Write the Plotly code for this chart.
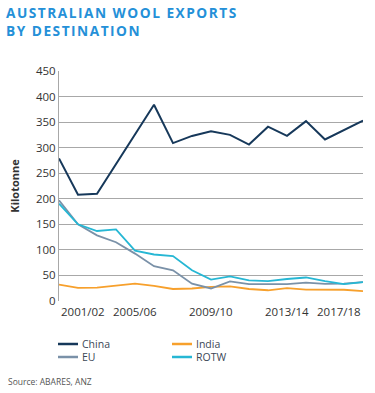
import plotly.graph_objects as go

years = ["2001/02", "2002/03", "2003/04", "2004/05", "2005/06", "2006/07", "2007/08",
         "2008/09", "2009/10", "2010/11", "2011/12", "2012/13", "2013/14", "2014/15",
         "2015/16", "2016/17", "2017/18"]
china = [279, 208, 210, 268, 327, 384, 309, 323, 332, 325, 306, 341, 323, 352, 316, 335, 353]
india = [32, 25.5, 26, 30, 34, 29.5, 23.5, 24.5, 27.5, 28.7, 23.5, 21, 25, 22.3, 22, 22, 19.5]
eu = [197, 150, 128.5, 115, 92.7, 68, 60, 34, 24.5, 38.5, 33, 33, 33, 36, 33.7, 34, 37]
rotw = [190.5, 150, 137, 140, 98.6, 91, 88, 60, 42, 48, 40.5, 39, 43, 46, 39, 33, 37]
tick_labels = ["2001/02", "2005/06", "2009/10", "2013/14", "2017/18"]
tick_idx = [0, 4, 8, 12, 16]
title_lines = ["AUSTRALIAN WOOL EXPORTS", "BY DESTINATION"]
source_text = "Source: ABARES, ANZ"

series = [
    ("China", china, "#16385a", 2.0),
    ("India", india, "#f7a02c", 1.8),
    ("EU", eu, "#7a91a8", 1.8),
    ("ROTW", rotw, "#26b7d4", 1.8),
]

FONT = "Open Sans"
W, H = 375, 393
L, R, T, B = 59, 12, 71, 92
pw, ph = W - L - R, H - T - B


def px(x):
    return (x - L) / pw


def py(y):
    return (H - B - y) / ph


fig = go.Figure()
for name, vals, col, w in series:
    fig.add_trace(go.Scatter(x=years, y=vals, mode="lines", name=name,
                             line=dict(color=col, width=w), showlegend=False))

anns = []
for lab, i in zip(tick_labels, tick_idx):
    anchor = "left" if i == 0 else ("right" if i == len(years) - 1 else "center")
    anns.append(dict(x=years[i], y=0, xref="x", yref="paper", text=lab, showarrow=False,
                     xanchor=anchor, yanchor="top", yshift=-1,
                     font=dict(size=11.5, color="#333333")))

for txt, ty in zip(title_lines, [12.8, 30.8]):
    anns.append(dict(x=px(5), y=py(ty), xref="paper", yref="paper",
                     text='<span style="letter-spacing:1.5px"><b>' + txt + "</b></span>",
                     showarrow=False, xanchor="left", yanchor="middle", borderpad=0,
                     font=dict(family="Open Sans", size=13.7, color="#2490d8")))

shapes = []
leg_pos = [(58, 344), (172, 344), (58, 357), (172, 357)]
for (name, vals, col, w), (lx, ly) in zip(series, leg_pos):
    shapes.append(dict(type="line", xref="paper", yref="paper", x0=px(lx), x1=px(lx + 20),
                       y0=py(ly), y1=py(ly), line=dict(color=col, width=2.5)))
    anns.append(dict(x=px(lx + 23), y=py(ly), xref="paper", yref="paper", text=name,
                     showarrow=False, xanchor="left", yanchor="middle", borderpad=0,
                     font=dict(size=10.5, color="#3b4756")))

anns.append(dict(x=px(6), y=py(381), xref="paper", yref="paper", text=source_text,
                 showarrow=False, xanchor="left", yanchor="middle",
                 font=dict(size=8.5, color="#555555")))

fig.update_layout(
    width=W, height=H,
    margin=dict(l=L, r=R, t=T, b=B),
    plot_bgcolor="white", paper_bgcolor="white",
    font=dict(family=FONT, size=11, color="#333333"),
    xaxis=dict(type="category", range=[0, 16], showticklabels=False, showgrid=False,
               zeroline=False, showline=False, ticks=""),
    yaxis=dict(range=[0, 450], dtick=50, showgrid=True, gridcolor="#a8a8a8", gridwidth=1,
               zeroline=False, showline=True, linecolor="#a8a8a8", linewidth=1,
               ticks="", ticklen=0, tickfont=dict(size=11.5, color="#333333"),
               title=dict(text="<b>Kilotonne</b>", font=dict(size=11, color="#333333"),
                          standoff=14)),
    annotations=anns, shapes=shapes,
)

fig.write_html("out.html", config={"displayModeBar": False},
               post_script="document.body.style.margin='0';document.body.style.padding='0';")
